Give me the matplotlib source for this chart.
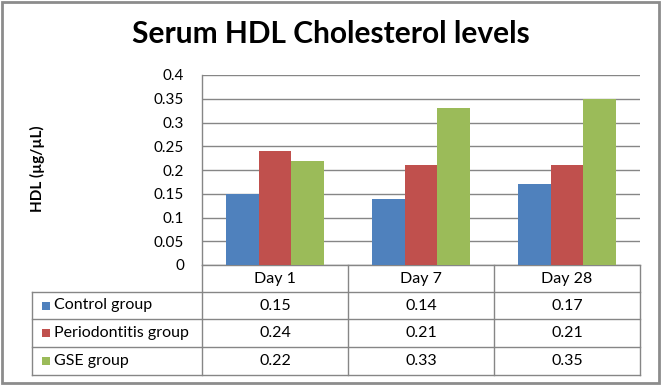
import matplotlib
matplotlib.use("Agg")
import matplotlib.pyplot as plt
import matplotlib.transforms as mtransforms
from matplotlib.lines import Line2D
from matplotlib.patches import Rectangle
import numpy as np

categories = ["Day 1", "Day 7", "Day 28"]
series_names = ["Control group", "Periodontitis group", "GSE group"]
control = [0.15, 0.14, 0.17]
periodontitis = [0.24, 0.21, 0.21]
gse = [0.22, 0.33, 0.35]
yticks = [0, 0.05, 0.1, 0.15, 0.2, 0.25, 0.3, 0.35, 0.4]
ytick_labels = ["0", "0.05", "0.1", "0.15", "0.2", "0.25", "0.3", "0.35", "0.4"]
colors = ["#4F81BD", "#C0504D", "#9BBB59"]
title = "Serum HDL Cholesterol levels"
ylabel = "HDL (µg/µL)"

plt.rcParams['font.family'] = ['Lato', 'DejaVu Sans']

W, H = 662, 385
fig = plt.figure(figsize=(W / 100, H / 100), dpi=100)

def fx(px):
    return px / W

def fy(py):
    return 1 - py / H

ax_l, ax_r, ax_t, ax_b = 202, 640, 75, 265
ax = fig.add_axes([fx(ax_l), fy(ax_b), fx(ax_r - ax_l), (ax_b - ax_t) / H])

values = [control, periodontitis, gse]
x = np.arange(len(categories))
bw = 0.222
for i, (vals, c) in enumerate(zip(values, colors)):
    ax.bar(x + (i - 1) * bw, vals, width=bw, color=c, zorder=3)

ax.set_xlim(-0.5, len(categories) - 0.5)
ax.set_ylim(0, 0.4)
ax.set_yticks(yticks)
ax.set_yticklabels(ytick_labels, fontsize=11)
ax.set_xticks([])
ax.tick_params(axis='y', length=0, pad=13, colors='#000000')
ax.grid(axis='y', color='#868686', linewidth=1.0, zorder=0)
for s in ['top', 'right']:
    ax.spines[s].set_visible(False)
ax.spines['left'].set_color('#868686')
ax.spines['bottom'].set_color('#868686')
ax.spines['left'].set_linewidth(1.0)
ax.spines['bottom'].set_linewidth(1.0)

fig.text(fx(331), fy(43), title, ha='center', va='baseline', fontsize=21.5, fontweight='bold')
fig.text(fx(37), fy(169), ylabel, ha='center', va='center', rotation=90, fontsize=11, fontweight='bold')

# Data table
lc = '#868686'
lw = 1.0
blend = mtransforms.blended_transform_factory(ax.transData, fig.transFigure)
row_tops = [265, 292, 319, 347, 375]
tbl_left = 32

for b in np.arange(-0.5, len(categories), 1.0):
    fig.add_artist(Line2D([b, b], [fy(265), fy(375)], transform=blend, color=lc, lw=lw))
fig.add_artist(Line2D([fx(tbl_left), fx(tbl_left)], [fy(292), fy(375)], transform=fig.transFigure, color=lc, lw=lw))
for r in row_tops[1:]:
    fig.add_artist(Line2D([fx(tbl_left), fx(ax_r)], [fy(r), fy(r)], transform=fig.transFigure, color=lc, lw=lw))

for i, cat in enumerate(categories):
    fig.text(i, fy((row_tops[0] + row_tops[1]) / 2), cat, transform=blend, ha='center', va='center', fontsize=11.5)

for j, (name, vals, c) in enumerate(zip(series_names, values, colors)):
    yc = (row_tops[j + 1] + row_tops[j + 2]) / 2
    fig.add_artist(Rectangle((fx(42), fy(yc + 4)), fx(8), 8 / H, transform=fig.transFigure,
                             facecolor=c, edgecolor='none'))
    fig.text(fx(54), fy(yc), name, ha='left', va='center', fontsize=11.5)
    for i, v in enumerate(vals):
        fig.text(i, fy(yc), f"{v:g}", transform=blend, ha='center', va='center', fontsize=11.5)

fig.add_artist(Rectangle((fx(1.5), fy(382.5)), fx(657), 381 / H, transform=fig.transFigure,
                         facecolor='none', edgecolor='#8c8c8c', lw=2))

fig.savefig("out.png", dpi=100)
